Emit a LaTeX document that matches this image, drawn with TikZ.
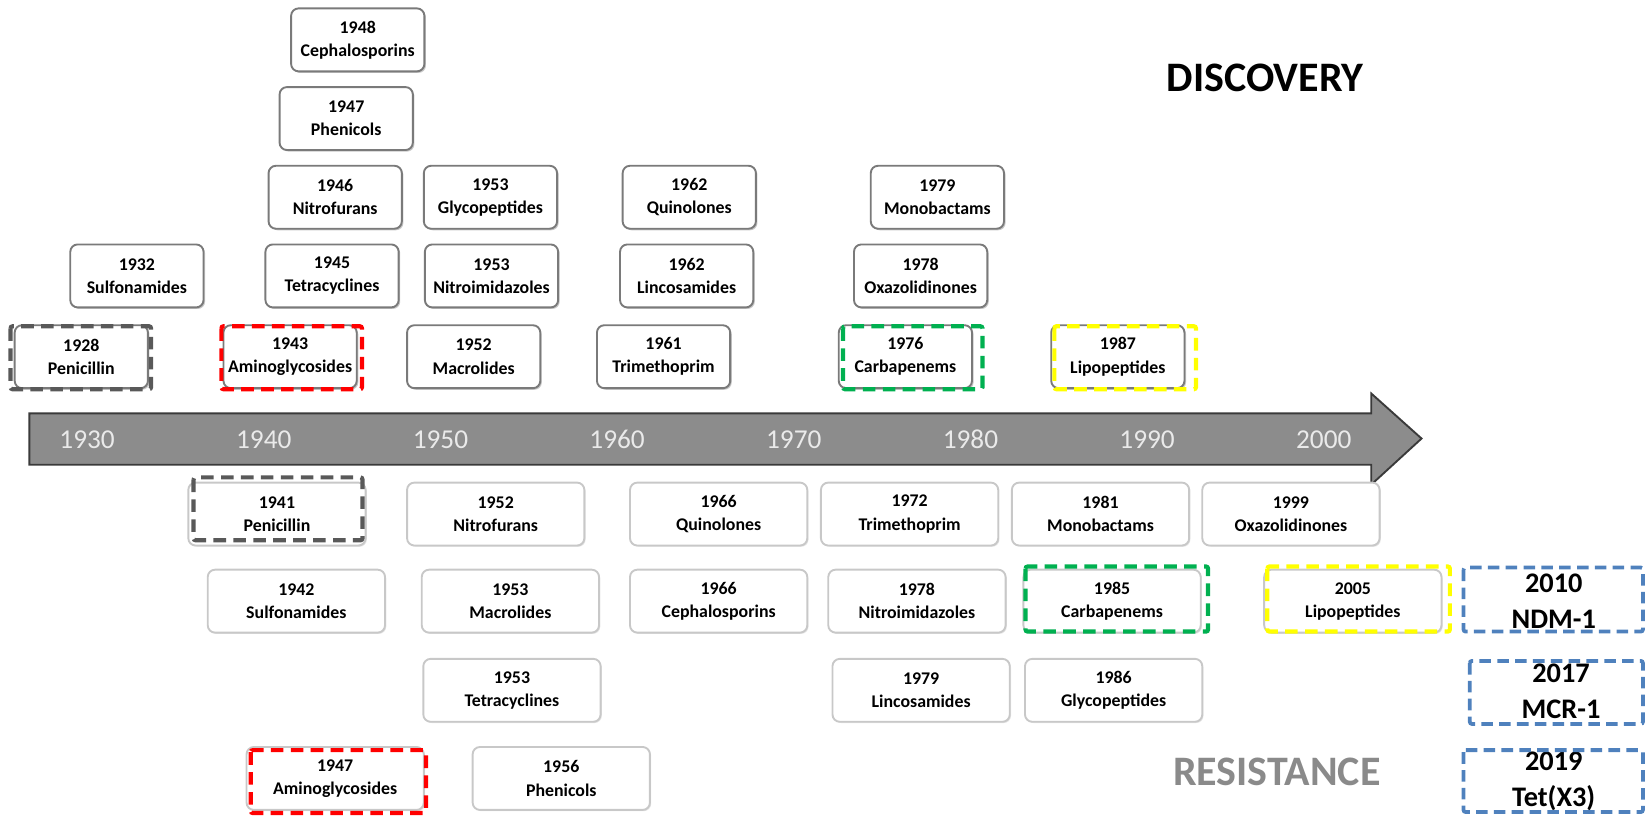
\documentclass[tikz,border=0pt]{standalone}
\usepackage{fontspec}
\setmainfont{Carlito}
\usetikzlibrary{calc,shadows}
\definecolor{topgray}{HTML}{7A7A7A}
\definecolor{botgray}{HTML}{C8C8C8}
\definecolor{dgray}{HTML}{595959}
\definecolor{dred}{HTML}{FF0000}
\definecolor{dgreen}{HTML}{00B050}
\definecolor{dyellow}{HTML}{FFFF00}
\definecolor{dblue}{HTML}{4F81BD}
\definecolor{arrowfill}{HTML}{8C8C8C}
\definecolor{arrowline}{HTML}{3A3A3A}
\definecolor{yeartext}{HTML}{EAEAEA}
\definecolor{resgray}{HTML}{8A8A8A}
\newcommand{\dashround}[6]{\draw[dashedbox,#2] ($(#1.north west)+(#3,#4)$) rectangle ($(#1.south east)+(#5,#6)$);}
\begin{document}
\begin{tikzpicture}[x=1pt,y=-1pt,
  boxtext/.style={font=\fontsize{17}{22}\selectfont\bfseries, align=center, inner sep=0pt, outer sep=0pt},
  topbox/.style={boxtext, draw=topgray, line width=1.8pt, rounded corners=7pt, fill=white,
     minimum width=127pt, minimum height=60pt,
     drop shadow={shadow xshift=1.5pt, shadow yshift=-1.5pt, fill=black, opacity=0.22}},
  botbox/.style={boxtext, draw=botgray, line width=1.8pt, rounded corners=7pt, fill=white,
     minimum width=169pt, minimum height=60pt,
     drop shadow={shadow xshift=1.2pt, shadow yshift=-1.2pt, fill=black, opacity=0.10}},
  dashedbox/.style={line width=4pt, dash pattern=on 12pt off 7pt, rounded corners=2pt},
  bluedash/.style={draw=dblue, line width=3.6pt, dash pattern=on 11pt off 6pt, rounded corners=2pt},
  bluetext/.style={font=\fontsize{27}{34}\selectfont\bfseries, align=center, inner sep=0pt},
  yearlabel/.style={font=\fontsize{26}{26}\selectfont, text=yeartext, inner sep=0pt},
  bigtitle/.style={font=\fontsize{40}{40}\selectfont\bfseries, inner sep=0pt}]
\useasboundingbox (0,0) rectangle (1568,777);

% timeline arrow
\draw[fill=arrowfill, draw=arrowline, line width=1.8pt, line join=miter]
  (28,394) -- (1307,394) -- (1307,375) -- (1355,418) -- (1307,462) -- (1307,443) -- (28,443) -- cycle;
\foreach \yr [count=\i from 0] in {1930,1940,1950,1960,1970,1980,1990,2000}
  \node[yearlabel] (y\yr) at ({83+168.4*\i},419) {\yr};

% discovery boxes
\node[topbox] (d1948) at (341,38) {1948\\Cephalosporins};
\node[topbox] (d1947) at (330,113) {1947\\Phenicols};
\node[topbox] (d1946) at (319.5,188) {1946\\Nitrofurans};
\node[topbox] (d1953g) at (467.5,188) {1953\\Glycopeptides};
\node[topbox] (d1962q) at (657,188) {1962\\Quinolones};
\node[topbox] (d1979) at (893.5,188) {1979\\Monobactams};
\node[topbox] (d1932) at (130.5,263) {1932\\Sulfonamides};
\node[topbox] (d1945) at (316.5,263) {1945\\Tetracyclines};
\node[topbox] (d1953n) at (468.5,263) {1953\\Nitroimidazoles};
\node[topbox] (d1962l) at (654.5,263) {1962\\Lincosamides};
\node[topbox] (d1978) at (877.5,263) {1978\\Oxazolidinones};
\node[topbox] (d1928) at (77.5,340) {1928\\Penicillin};
\node[topbox] (d1943) at (276.5,340) {1943\\Aminoglycosides};
\node[topbox] (d1952) at (451.5,340) {1952\\Macrolides};
\node[topbox] (d1961) at (632.5,340) {1961\\Trimethoprim};
\node[topbox] (d1976) at (863,340) {1976\\Carbapenems};
\node[topbox] (d1987) at (1065.5,340) {1987\\Lipopeptides};

\dashround{d1928}{dgray}{-4}{1}{3}{1}
\dashround{d1943}{dred}{-2}{1}{5}{1}
\dashround{d1976}{dgreen}{4}{1}{10}{1}
\dashround{d1987}{dyellow}{3}{1}{11}{1}

% resistance boxes
\node[botbox] (r1941) at (264,490) {1941\\Penicillin};
\node[botbox] (r1952) at (472.5,490) {1952\\Nitrofurans};
\node[botbox] (r1966q) at (685,490) {1966\\Quinolones};
\node[botbox] (r1972) at (867,490) {1972\\Trimethoprim};
\node[botbox] (r1981) at (1049,490) {1981\\Monobactams};
\node[botbox] (r1999) at (1230.5,490) {1999\\Oxazolidinones};
\node[botbox] (r1942) at (282.5,573) {1942\\Sulfonamides};
\node[botbox] (r1953m) at (486.5,573) {1953\\Macrolides};
\node[botbox] (r1966c) at (685,573) {1966\\Cephalosporins};
\node[botbox] (r1978) at (874,573) {1978\\Nitroimidazoles};
\node[botbox] (r1985) at (1060,573) {1985\\Carbapenems};
\node[botbox] (r2005) at (1289.5,573) {2005\\Lipopeptides};
\node[botbox] (r1953t) at (488,658) {1953\\Tetracyclines};
\node[botbox] (r1979) at (878,658) {1979\\Lincosamides};
\node[botbox] (r1986) at (1061.5,658) {1986\\Glycopeptides};
\node[botbox] (r1947) at (319.5,742) {1947\\Aminoglycosides};
\node[botbox] (r1956) at (535,742) {1956\\Phenicols};

\dashround{r1941}{dgray}{5}{-5}{-3}{-5}
\dashround{r1947}{dred}{4}{3}{2}{3}
\dashround{r1985}{dgreen}{2}{-3}{7}{-1}
\dashround{r2005}{dyellow}{3}{-3}{8}{-1}

% new resistance genes
\node[bluetext] (n2010) at (1481,573) {2010\\NDM-1};
\draw[bluedash] ($(n2010)+(-86,-32)$) rectangle ($(n2010)+(85,29)$);
\node[bluetext] (n2017) at (1488,659) {2017\\MCR-1};
\draw[bluedash] ($(n2017)+(-87,-29)$) rectangle ($(n2017)+(78,31)$);
\node[bluetext] (n2019) at (1481,745) {2019\\Tet(X3)};
\draw[bluedash] ($(n2019)+(-86,-30)$) rectangle ($(n2019)+(85,29)$);

% titles
\node[bigtitle] (disc) at (1206,74) {DISCOVERY};
\node[bigtitle, text=resgray] (res) at (1217,736) {RESISTANCE};
\end{tikzpicture}
\end{document}
